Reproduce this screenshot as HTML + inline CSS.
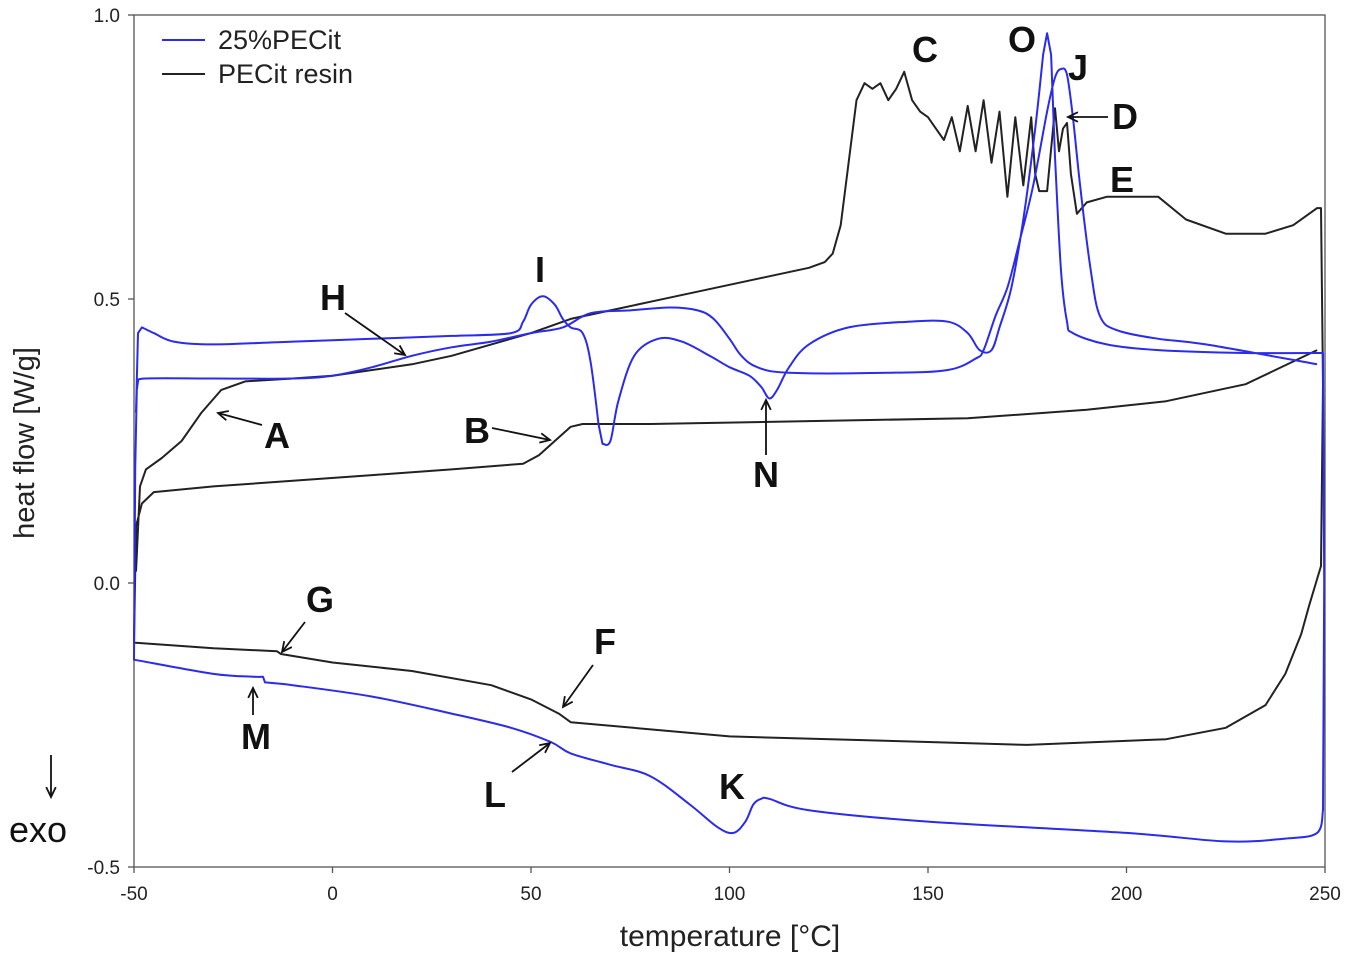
<!DOCTYPE html>
<html><head><meta charset="utf-8">
<style>
html,body{margin:0;padding:0;background:#fff;}
svg{display:block;font-family:"Liberation Sans",Arial,sans-serif;}
</style></head>
<body>
<svg id="chart" width="1350" height="958" viewBox="0 0 1350 958">
  <g id="grid"></g>
  <g id="series"></g>
  <g id="annot"></g>
</svg>
<script>
// ---- data ----
const xTicks = [-50, 0, 50, 100, 150, 200, 250];
const yTicks = [1.0, 0.5, 0.0, -0.5];
const yTickLabels = ["1.0", "0.5", "0.0", "-0.5"];
const seriesNames = ["25%PECit", "PECit resin"];

const resinT = [-49.5,-48.5,-47,-43,-38,-33,-28,-22,-10,0,10,20,30,40,50,60,70,80,90,100,110,120,124,126,128,130,132,134,136,138,140,142,144,146,148,150,152,154,156,158,160,162,164,166,168,170,172,174,176,177,178,180,182,183,184,185,186,187.5,190,195,205,208,215,225,235,242,248,249,249.5,249,
 246,244,240,235,225,210,175,150,100,60,57,50,40,20,0,-13,-14,-30,-50,
 -49.5,-48,-45,-30,-10,10,30,48,52,56,60,63,80,120,160,190,210,230,248];
const resinH = [0.02,0.17,0.2,0.22,0.25,0.3,0.34,0.355,0.36,0.365,0.375,0.385,0.40,0.42,0.44,0.465,0.48,0.495,0.51,0.525,0.54,0.555,0.565,0.58,0.63,0.74,0.85,0.88,0.87,0.88,0.85,0.87,0.9,0.85,0.83,0.82,0.8,0.78,0.82,0.76,0.84,0.76,0.85,0.74,0.83,0.68,0.82,0.7,0.82,0.72,0.69,0.69,0.836,0.76,0.8,0.81,0.72,0.65,0.67,0.68,0.68,0.68,0.64,0.615,0.615,0.63,0.66,0.66,0.35,0.03,
 -0.04,-0.09,-0.16,-0.215,-0.255,-0.275,-0.285,-0.28,-0.27,-0.245,-0.23,-0.205,-0.18,-0.155,-0.14,-0.125,-0.12,-0.115,-0.105,
 0.1,0.14,0.16,0.17,0.18,0.19,0.2,0.21,0.225,0.25,0.275,0.28,0.28,0.285,0.29,0.305,0.32,0.35,0.41];

const blendT = [-49.5,-49,-48,-45,-40,-30,-10,10,30,45,48,50,53,56,58,60,63,65,67,68,70,72,76,82,88,95,100,105,108,110,112,115,120,130,145,155,160,163,166,168,171,174,177,179,180,181,182,183.5,185,186.5,195,208,230,249.5,249.8,
 249.5,248,240,225,200,150,120,110,108,106,104,101,97,90,80,70,60,55,45,30,10,-10,-17,-17.5,-20,-30,-50,
 -49.7,-49.3,-49,-47,-30,-10,0,10,20,30,40,50,58,65,75,85,92,96,100,103,107,115,140,155,162,164,167,170,173,176.5,180,182,183.5,185,186.5,188.3,191,193.3,197.6,208,220,248];
const blendH = [0.3,0.44,0.45,0.44,0.425,0.42,0.425,0.43,0.435,0.44,0.46,0.49,0.505,0.49,0.465,0.45,0.44,0.39,0.28,0.245,0.25,0.32,0.4,0.43,0.425,0.4,0.38,0.365,0.345,0.325,0.34,0.38,0.42,0.45,0.46,0.46,0.44,0.41,0.41,0.45,0.52,0.64,0.8,0.93,0.968,0.93,0.75,0.55,0.46,0.44,0.42,0.41,0.405,0.405,0.0,
 -0.4,-0.44,-0.45,-0.455,-0.44,-0.42,-0.4,-0.38,-0.38,-0.39,-0.42,-0.44,-0.43,-0.39,-0.34,-0.32,-0.3,-0.28,-0.255,-0.23,-0.2,-0.18,-0.175,-0.165,-0.165,-0.16,-0.135,
 0.2,0.34,0.355,0.36,0.36,0.36,0.365,0.38,0.40,0.415,0.425,0.44,0.45,0.475,0.48,0.485,0.48,0.465,0.43,0.4,0.38,0.37,0.37,0.375,0.395,0.41,0.47,0.52,0.6,0.7,0.83,0.89,0.905,0.895,0.82,0.7,0.55,0.47,0.445,0.43,0.42,0.385];

// ---- axes ----
const X0=134, X1=1325, Y0=15, Y1=867;
const xScale = t => X0 + (t - (-50)) / 300 * (X1 - X0);
const yScale = h => Y1 - (h - (-0.5)) / 1.5 * (Y1 - Y0);
const NS = "http://www.w3.org/2000/svg";
function mk(tag, attrs, parent){const e=document.createElementNS(NS,tag);for(const k in attrs)e.setAttribute(k,attrs[k]);parent.appendChild(e);return e;}

const grid = document.getElementById('grid');
const frame = mk('rect',{x:X0,y:Y0,width:X1-X0,height:Y1-Y0,fill:'none',stroke:'#555','stroke-width':1.3},grid);



xTicks.forEach(t=>{
  const x=xScale(t);
  const tk=mk('line',{x1:x,x2:x,y1:Y1,y2:Y1+6,stroke:'#555','stroke-width':1.3},grid);
  
  
  const lb=mk('text',{x:x,y:Y1+33,'font-size':19,'text-anchor':'middle',fill:'#222'},grid);
  lb.textContent=t;
  
  
});
yTicks.forEach((h,i)=>{
  const y=yScale(h);
  const tk=mk('line',{x1:X0-6,x2:X0,y1:y,y2:y,stroke:'#555','stroke-width':1.3},grid);
  
  
  const lb=mk('text',{x:X0-14,y:y+7,'font-size':19,'text-anchor':'end',fill:'#222'},grid);
  lb.textContent=yTickLabels[i];
  
  
});
const xt=mk('text',{x:730,y:946,'font-size':30,'text-anchor':'middle',fill:'#222'},grid);
xt.textContent='temperature [°C]';


const yt=mk('text',{x:0,y:0,'font-size':29,'text-anchor':'middle',fill:'#222',transform:'translate(34,443) rotate(-90)'},grid);
yt.textContent='heat flow [W/g]';



// ---- series ----
const ser = document.getElementById('series');
function drawLine(T,H,color,name,smooth){
  const P=T.map((t,i)=>[xScale(t),yScale(H[i])]);
  const n=P.length;
  const steep=(a,b)=>Math.abs(P[b][0]-P[a][0])<4;
  let d='M'+P[0][0].toFixed(1)+','+P[0][1].toFixed(1);
  for(let i=0;i<n-1;i++){
    const p1=P[i],p2=P[i+1];
    if(smooth && !steep(i,i+1)){
      let p0=(i>0 && !steep(i-1,i))?P[i-1]:p1;
      let p3=(i+2<n && !steep(i+1,i+2))?P[i+2]:p2;
      const k=1/6;
      const c1=[p1[0]+(p2[0]-p0[0])*k,p1[1]+(p2[1]-p0[1])*k];
      const c2=[p2[0]-(p3[0]-p1[0])*k,p2[1]-(p3[1]-p1[1])*k];
      d+=' C'+c1[0].toFixed(1)+','+c1[1].toFixed(1)+' '+c2[0].toFixed(1)+','+c2[1].toFixed(1)+' '+p2[0].toFixed(1)+','+p2[1].toFixed(1);
    } else d+=' L'+p2[0].toFixed(1)+','+p2[1].toFixed(1);
  }
  const p=mk('path',{d:d,fill:'none',stroke:color,'stroke-width':2,'stroke-linejoin':'round'},ser);
  
  
}
drawLine(resinT,resinH,'#222','pecit-resin-line',false);
drawLine(blendT,blendH,'#2a2af0','pecit25-line',true);

// legend
const lg=[['#2a2af0',40],['#222',74]];
lg.forEach((l,i)=>{
  const ln=mk('line',{x1:162,x2:205,y1:l[1],y2:l[1],stroke:l[0],'stroke-width':2},ser);
  
  
  const tx=mk('text',{x:218,y:l[1]+9,'font-size':27,fill:'#222'},ser);
  tx.textContent=seriesNames[i];
  
  
});

// ---- annotations (pixel placed) ----
const an=document.getElementById('annot');
const labels=[['C',925,62],['O',1022,52],['J',1078,80],['D',1125,129],['E',1122,192],['I',540,282],['H',333,310],['A',277,448],['B',477,443],['N',766,487],['G',320,612],['F',605,654],['M',256,749],['L',495,807],['K',732,799]];
labels.forEach(l=>{
  const t=mk('text',{x:l[1],y:l[2],'font-size':36,'font-weight':'bold','text-anchor':'middle',fill:'#111'},an);
  t.textContent=l[0];
  
  
});
const arrows=[[1108,117,1068,117],[345,313,405,355],[262,425,218,413],[492,428,550,440],[766,455,766,400],[305,622,282,652],[593,665,563,707],[253,715,253,688],[512,772,550,743],[51,755,51,797]];
arrows.forEach(a=>{
  const g=mk('g',{},an);
  
  
  mk('line',{x1:a[0],y1:a[1],x2:a[2],y2:a[3],stroke:'#111','stroke-width':1.8},g);
  const ang=Math.atan2(a[3]-a[1],a[2]-a[0]);
  const s=11,w=0.45;
  const p1=[a[2]-s*Math.cos(ang-w),a[3]-s*Math.sin(ang-w)];
  const p2=[a[2]-s*Math.cos(ang+w),a[3]-s*Math.sin(ang+w)];
  mk('polyline',{points:p1.join(',')+' '+a[2]+','+a[3]+' '+p2.join(','),fill:'none',stroke:'#111','stroke-width':1.8},g);
});
const exo=mk('text',{x:38,y:842,'font-size':36,'text-anchor':'middle',fill:'#111'},an);
exo.textContent='exo';


</script>
</body></html>
